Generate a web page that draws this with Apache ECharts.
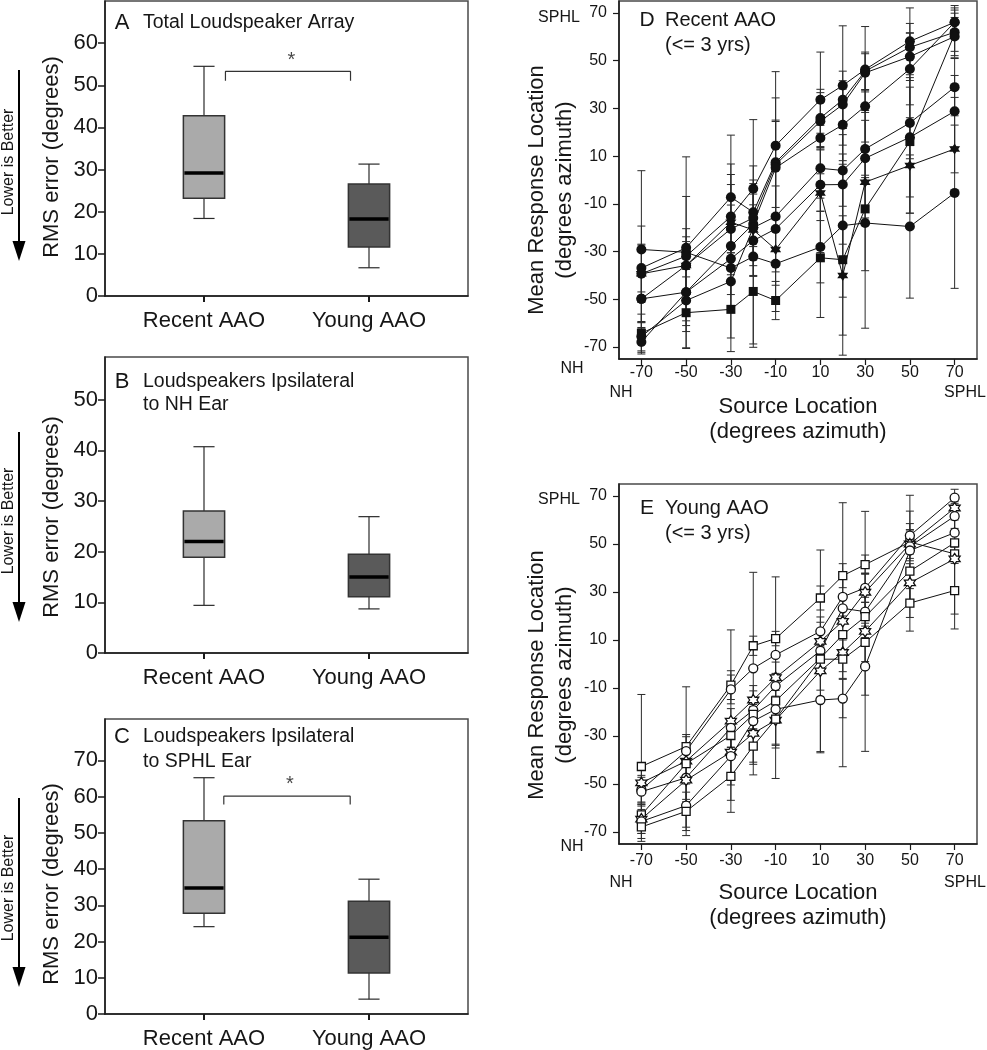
<!DOCTYPE html>
<html>
<head>
<meta charset="utf-8">
<script src="https://cdn.jsdelivr.net/npm/echarts@6/dist/echarts.min.js"></script>
<style>
html,body{margin:0;padding:0;background:#fff;}
#chart{width:987px;height:1050px;}
</style>
</head>
<body>
<div id="chart"></div>
<script>
// ---------------- DATA ----------------
const groups = ['Recent AAO', 'Young AAO'];
const groupPos = [1, 2];
// box stats: [min, Q1, median, Q3, max]
const boxA_recent = [18.4, 23.2, 29.2, 42.8, 54.5];
const boxA_young  = [6.7, 11.6, 18.3, 26.6, 31.3];
const boxB_recent = [9.4, 18.9, 22.0, 28.0, 40.7];
const boxB_young  = [8.7, 11.1, 15.0, 19.5, 26.9];
const boxC_recent = [24.1, 27.8, 34.8, 53.3, 65.2];
const boxC_young  = [4.1, 11.3, 21.2, 31.1, 37.2];
const ticksA = [0, 10, 20, 30, 40, 50, 60];
const ticksB = [0, 10, 20, 30, 40, 50];
const ticksC = [0, 10, 20, 30, 40, 50, 60, 70];
const bracketA = [[1.13, 51.1], [1.13, 53.3], [1.888, 53.3], [1.888, 51.1]];
const starA = [[1.53, 56.0]];
const bracketC = [[1.12, 57.8], [1.12, 60.1], [1.886, 60.1], [1.886, 57.8]];
const starC = [[1.52, 63.3]];

const sourceLoc = [-70, -50, -30, -20, -10, 10, 20, 30, 50, 70];
const xTicks = [-70, -50, -30, -10, 10, 30, 50, 70];
const yTicks = [-70, -50, -30, -10, 10, 30, 50, 70];

// Panel D (Recent AAO) mean response per listener
const D1 = [-29.1, -30.3, -36.9, -32.1, -35.1, -28.1, -19.1, -18.0, -19.5, -5.4];
const D2 = [-64.2, -55.6, -54.2, -46.7, -50.5, -32.6, -33.4, -12.1, 16.1, 61.2];
const D3 = [-39.3, -35.8, -17.7, -20.9, -29.1, -5.4, -40.0, -0.9, 6.1, 13.0];
const D4 = [-36.9, -28.4, -7.2, -13.5, 7.4, 26.0, 33.6, 45.6, 55.6, 61.9];
const D5 = [-39.3, -31.9, -15.3, -3.7, 14.4, 33.6, 39.6, 46.3, 58.1, 66.1];
const D6 = [-49.8, -35.8, -20.5, -15.9, 6.5, 24.6, 31.6, 44.9, 51.7, 60.1];
const D7 = [-49.8, -47.0, -27.7, -18.4, 5.1, 17.6, 23.1, 30.9, 46.5, 66.1];
const D8 = [-67.9, -47.0, -33.0, -25.4, -20.5, -2.0, -1.9, 9.1, 17.9, 28.8];
const D9 = [-65.6, -50.5, -42.5, -20.0, -15.3, 4.9, 4.0, 13.0, 23.9, 38.9];
// Panel D standard deviations
const D1sd = [33, 40, 35, 38, 20, 15, 30, 20, 30, 40];
const D2sd = [8, 15, 12, 22, 8, 25, 40, 50, 30, 10];
const D3sd = [12, 10, 20, 15, 15, 25, 25, 15, 20, 10];
const D4sd = [10, 8, 26, 12, 27, 12, 12, 8, 10, 8];
const D5sd = [20, 25, 22, 29, 31, 20, 25, 18, 14, 7];
const D6sd = [10, 12, 10, 12, 18, 12, 10, 8, 10, 8];
const D7sd = [12, 14, 12, 15, 20, 15, 15, 15, 15, 6];
const D8sd = [5, 12, 15, 15, 18, 15, 25, 20, 25, 15];
const D9sd = [6, 13, 12, 20, 20, 18, 15, 12, 15, 12];

// Panel E (Young AAO)
const E1 = [-42.7, -34.4, -8.8, 7.6, 10.6, 27.5, 36.8, 41.4, 50.8, 45.9];
const E2 = [-52.4, -36.3, -10.6, -1.8, 3.8, 13.6, 28.0, 31.7, 53.5, 69.3];
const E3 = [-49.5, -40.5, -23.8, -15.0, -5.7, 9.4, 17.8, 29.9, 50.0, 65.0];
const E4 = [-53.2, -47.4, -26.6, -19.2, -9.2, 5.5, 23.2, 21.8, 49.0, 61.6];
const E5 = [-62.9, -41.5, -29.8, -21.0, -15.4, 2.4, 12.2, 19.7, 38.7, 50.5];
const E6 = [-64.6, -48.4, -36.7, -28.9, -23.4, -2.9, 4.8, 13.6, 33.8, 43.8];
const E7 = [-65.6, -59.0, -38.4, -23.8, -18.9, -15.0, -14.4, -1.0, 47.3, 54.7];
const E8 = [-67.9, -61.4, -46.8, -34.2, -23.0, 2.0, 2.0, 9.0, 25.4, 30.6];
const E1sd = [30, 5, 6, 4, 3, 5, 5, 4, 5, 4];
const E2sd = [6, 6, 6, 40, 8, 6, 8, 6, 5, 3.5];
const E3sd = [8, 31, 38, 6, 42, 8, 6, 8, 6, 5];
const E4sd = [6, 10, 8, 8, 10, 42, 6, 6, 6, 6];
const E5sd = [5, 5, 5, 6, 8, 6, 55, 6, 25, 6];
const E6sd = [6, 8, 10, 12, 10, 8, 8, 50, 8, 23];
const E7sd = [5, 9, 12, 6, 15, 22, 8, 12, 23, 6];
const E8sd = [6, 8, 10, 12, 12, 6, 8, 8, 6, 16];

// ---------------- STYLE / LAYOUT ----------------
const FF = '"Liberation Sans", Arial, Helvetica, sans-serif';
const TXT = '#161616';
const STAR = 'path://M0,-10L2.887,-5L8.66,-5L5.774,0L8.66,5L2.887,5L0,10L-2.887,5L-8.66,5L-5.774,0L-8.66,-5L-2.887,-5Z';
const dLines = [D1, D2, D3, D4, D5, D6, D7, D8, D9];
const dSds = [D1sd, D2sd, D3sd, D4sd, D5sd, D6sd, D7sd, D8sd, D9sd];
const dSym = ['circle', 'rect', STAR, 'circle', 'circle', 'circle', 'circle', 'circle', 'circle'];
const eLines = [E1, E2, E3, E4, E5, E6, E7, E8];
const eSds = [E1sd, E2sd, E3sd, E4sd, E5sd, E6sd, E7sd, E8sd];
const eSym = ['rect', 'circle', STAR, 'circle', 'rect', STAR, 'circle', 'rect'];

const chart = echarts.init(document.getElementById('chart'), null, {renderer: 'canvas'});

const gridBase = {show: true, borderColor: '#4a4a4a', borderWidth: 1.5, backgroundColor: 'transparent', containLabel: false};
const grids = [
  Object.assign({left: 105, top: 1, width: 363, height: 295}, gridBase),
  Object.assign({left: 105, top: 357, width: 363, height: 296}, gridBase),
  Object.assign({left: 105, top: 719, width: 363, height: 296}, gridBase),
  Object.assign({left: 619, top: 1, width: 358, height: 358}, gridBase),
  Object.assign({left: 619, top: 484, width: 358, height: 360}, gridBase)
];

const axLine = {show: true, onZero: false, lineStyle: {color: '#1a1a1a', width: 1.5}};

function boxX(g) {
  return {type: 'value', gridIndex: g, min: 0.4, max: 2.6,
    axisLine: axLine,
    axisTick: {show: true, length: 6, customValues: groupPos, lineStyle: {color: '#1a1a1a', width: 2}},
    axisLabel: {customValues: groupPos, formatter: v => groups[Math.round(v) - 1], fontSize: 22, fontFamily: FF, color: TXT, margin: 14},
    splitLine: {show: false}};
}
function boxY(g, max, ticks) {
  return {type: 'value', gridIndex: g, min: 0, max: max,
    axisLine: axLine,
    axisTick: {show: true, length: 7, customValues: ticks, lineStyle: {color: '#1a1a1a', width: 1.5}},
    axisLabel: {customValues: ticks, fontSize: 22, fontFamily: FF, color: TXT, margin: 7},
    splitLine: {show: false}};
}
function locX(g, margin) {
  return {type: 'value', gridIndex: g, min: -80, max: 80,
    axisLine: axLine,
    axisTick: {show: true, length: 6, customValues: xTicks, lineStyle: {color: '#1a1a1a', width: 1.2}},
    axisLabel: {customValues: xTicks, fontSize: 16, fontFamily: FF, color: TXT, margin: margin},
    splitLine: {show: false}};
}
function locY(g) {
  return {type: 'value', gridIndex: g, min: -75, max: 75,
    axisLine: axLine,
    axisTick: {show: true, length: 6, customValues: yTicks, lineStyle: {color: '#1a1a1a', width: 1.2}},
    axisLabel: {customValues: yTicks, fontSize: 16, fontFamily: FF, color: TXT, margin: 12},
    splitLine: {show: false}};
}

function boxSeries(g, pos, stats, fill) {
  return {
    type: 'custom', xAxisIndex: g, yAxisIndex: g, silent: true, z: 3,
    encode: {x: 0, y: [1, 2, 3, 4, 5]},
    data: [[pos].concat(stats)],
    renderItem: function (params, api) {
      const x = api.value(0);
      const pMin = api.coord([x, api.value(1)]);
      const pQ1 = api.coord([x, api.value(2)]);
      const pMd = api.coord([x, api.value(3)]);
      const pQ3 = api.coord([x, api.value(4)]);
      const pMax = api.coord([x, api.value(5)]);
      const hb = api.size([0.125, 0])[0];
      const hc = api.size([0.064, 0])[0];
      const cx = pMd[0];
      const ws = {stroke: '#2a2a2a', lineWidth: 1.2};
      return {type: 'group', children: [
        {type: 'line', shape: {x1: cx, y1: pMax[1], x2: cx, y2: pQ3[1]}, style: ws},
        {type: 'line', shape: {x1: cx, y1: pQ1[1], x2: cx, y2: pMin[1]}, style: ws},
        {type: 'line', shape: {x1: cx - hc, y1: pMax[1], x2: cx + hc, y2: pMax[1]}, style: ws},
        {type: 'line', shape: {x1: cx - hc, y1: pMin[1], x2: cx + hc, y2: pMin[1]}, style: ws},
        {type: 'rect', shape: {x: cx - hb, y: pQ3[1], width: 2 * hb, height: pQ1[1] - pQ3[1]}, style: {fill: fill, stroke: '#333', lineWidth: 1.5}},
        {type: 'line', shape: {x1: cx - hb + 1, y1: pMd[1], x2: cx + hb - 1, y2: pMd[1]}, style: {stroke: '#000', lineWidth: 3.5}}
      ]};
    }
  };
}

function bracketSeries(g, pts) {
  return {type: 'line', xAxisIndex: g, yAxisIndex: g, data: pts, symbol: 'none', silent: true,
    lineStyle: {color: '#333', width: 1.2}, z: 3};
}
function starSeries(g, pts) {
  return {type: 'scatter', xAxisIndex: g, yAxisIndex: g, data: pts, symbolSize: 1, silent: true,
    itemStyle: {color: 'transparent'},
    label: {show: true, position: 'inside', formatter: '*', fontSize: 20, fontFamily: FF, color: TXT}};
}

function errSeries(g, lines, sds) {
  const data = [];
  lines.forEach((vals, i) => vals.forEach((v, j) => data.push([sourceLoc[j], v, sds[i][j]])));
  return {
    type: 'custom', xAxisIndex: g, yAxisIndex: g, silent: true, z: 1,
    encode: {x: 0, y: 1},
    data: data,
    renderItem: function (params, api) {
      const x = api.value(0), m = api.value(1), s = api.value(2);
      const t = api.coord([x, m + s]);
      const b = api.coord([x, m - s]);
      const hw = 4;
      const st = {stroke: '#2b2b2b', lineWidth: 1};
      return {type: 'group', children: [
        {type: 'line', shape: {x1: t[0], y1: t[1], x2: b[0], y2: b[1]}, style: st},
        {type: 'line', shape: {x1: t[0] - hw, y1: t[1], x2: t[0] + hw, y2: t[1]}, style: st},
        {type: 'line', shape: {x1: b[0] - hw, y1: b[1], x2: b[0] + hw, y2: b[1]}, style: st}
      ]};
    }
  };
}

const series = [];
series.push(boxSeries(0, groupPos[0], boxA_recent, '#aaaaaa'));
series.push(boxSeries(0, groupPos[1], boxA_young, '#5a5a5a'));
series.push(boxSeries(1, groupPos[0], boxB_recent, '#aaaaaa'));
series.push(boxSeries(1, groupPos[1], boxB_young, '#5a5a5a'));
series.push(boxSeries(2, groupPos[0], boxC_recent, '#aaaaaa'));
series.push(boxSeries(2, groupPos[1], boxC_young, '#5a5a5a'));
series.push(bracketSeries(0, bracketA));
series.push(starSeries(0, starA));
series.push(bracketSeries(2, bracketC));
series.push(starSeries(2, starC));

series.push(errSeries(3, dLines, dSds));
dLines.forEach((vals, i) => series.push({
  type: 'line', xAxisIndex: 3, yAxisIndex: 3, z: 3,
  data: sourceLoc.map((x, j) => [x, vals[j]]),
  symbol: dSym[i], symbolSize: dSym[i] === STAR ? 11 : (dSym[i] === 'rect' ? 9 : 10),
  lineStyle: {color: '#111', width: 1}, itemStyle: {color: '#111'}
}));
series.push(errSeries(4, eLines, eSds));
eLines.forEach((vals, i) => series.push({
  type: 'line', xAxisIndex: 4, yAxisIndex: 4, z: 3,
  data: sourceLoc.map((x, j) => [x, vals[j]]),
  symbol: eSym[i], symbolSize: eSym[i] === STAR ? 11 : (eSym[i] === 'rect' ? 8 : 9),
  lineStyle: {color: '#111', width: 1},
  itemStyle: {color: '#ffffff', borderColor: '#111', borderWidth: 1.3}
}));

function txt(x, y, text, size, opts) {
  opts = opts || {};
  return {type: 'text', x: x, y: y, rotation: opts.rot || 0, silent: true, z: 10,
    style: {text: text, fontSize: size, fontFamily: FF, fill: TXT,
      align: opts.align || 'center', textAlign: opts.align || 'center',
      verticalAlign: 'middle', textVerticalAlign: 'middle'}};
}
const R = Math.PI / 2;
const graphics = [
  txt(122, 23, 'A', 22), txt(143, 23, 'Total Loudspeaker Array', 19.5, {align: 'left'}),
  txt(122, 382, 'B', 22), txt(143, 382, 'Loudspeakers Ipsilateral', 19.5, {align: 'left'}),
  txt(143, 405, 'to NH Ear', 19.5, {align: 'left'}),
  txt(122, 737, 'C', 22), txt(143, 737, 'Loudspeakers Ipsilateral', 19.5, {align: 'left'}),
  txt(143, 762, 'to SPHL Ear', 19.5, {align: 'left'}),
  txt(52, 157, 'RMS error (degrees)', 22, {rot: R}),
  txt(52, 517, 'RMS error (degrees)', 22, {rot: R}),
  txt(52, 884, 'RMS error (degrees)', 22, {rot: R}),
  txt(9, 162, 'Lower is Better', 16, {rot: R}),
  txt(9, 521, 'Lower is Better', 16, {rot: R}),
  txt(9, 888, 'Lower is Better', 16, {rot: R}),
  {type: 'line', shape: {x1: 19, y1: 70, x2: 19, y2: 245}, style: {stroke: '#000', lineWidth: 2}},
  {type: 'polygon', shape: {points: [[12.5, 241], [25.5, 241], [19, 261]]}, style: {fill: '#000'}},
  {type: 'line', shape: {x1: 19, y1: 432, x2: 19, y2: 606}, style: {stroke: '#000', lineWidth: 2}},
  {type: 'polygon', shape: {points: [[12.5, 602], [25.5, 602], [19, 622]]}, style: {fill: '#000'}},
  {type: 'line', shape: {x1: 19, y1: 798, x2: 19, y2: 971}, style: {stroke: '#000', lineWidth: 2}},
  {type: 'polygon', shape: {points: [[12.5, 967], [25.5, 967], [19, 987]]}, style: {fill: '#000'}},

  txt(647, 20, 'D', 21), txt(665, 20, 'Recent AAO', 20, {align: 'left'}),
  txt(665, 45, '(<= 3 yrs)', 20, {align: 'left'}),
  txt(647, 508, 'E', 21), txt(665, 508, 'Young AAO', 20, {align: 'left'}),
  txt(665, 533, '(<= 3 yrs)', 20, {align: 'left'}),
  txt(537, 190, 'Mean Response Location', 22, {rot: R}),
  txt(565, 190, '(degrees azimuth)', 22, {rot: R}),
  txt(537, 675, 'Mean Response Location', 22, {rot: R}),
  txt(565, 675, '(degrees azimuth)', 22, {rot: R}),
  txt(798, 407, 'Source Location', 22), txt(798, 432, '(degrees azimuth)', 22),
  txt(798, 893, 'Source Location', 22), txt(798, 918, '(degrees azimuth)', 22),
  txt(559, 18, 'SPHL', 16), txt(572, 369, 'NH', 16), txt(621, 393, 'NH', 16), txt(965, 393, 'SPHL', 16),
  txt(559, 500, 'SPHL', 16), txt(572, 847, 'NH', 16), txt(621, 883, 'NH', 16), txt(965, 883, 'SPHL', 16)
];

chart.setOption({
  animation: false,
  backgroundColor: '#ffffff',
  grid: grids,
  xAxis: [boxX(0), boxX(1), boxX(2), locX(3, 6), locX(4, 9)],
  yAxis: [boxY(0, 70, ticksA), boxY(1, 58.4, ticksB), boxY(2, 81.4, ticksC), locY(3), locY(4)],
  series: series,
  graphic: graphics
});
</script>
</body>
</html>
